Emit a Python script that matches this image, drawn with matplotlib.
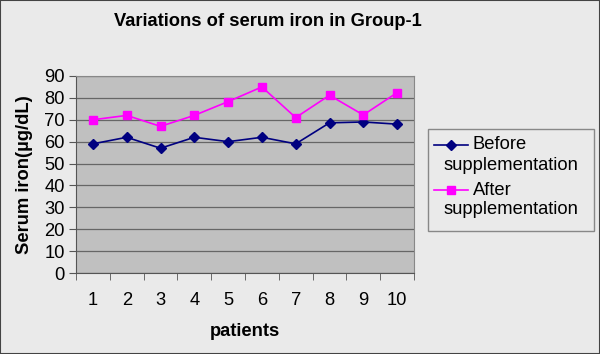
import matplotlib
matplotlib.use("Agg")
from matplotlib import pyplot as plt
from matplotlib.patches import Rectangle
from matplotlib.lines import Line2D

plt.rcParams['font.family'] = ['Liberation Sans', 'DejaVu Sans']

patients = [1, 2, 3, 4, 5, 6, 7, 8, 9, 10]
before = [59, 62, 57, 62, 60, 62, 59, 68.6, 69, 68]
after = [70, 72, 67, 72, 78.3, 85, 71, 81.2, 72.2, 82.4]
series_names = ["Before", "After"]

W, H = 600, 354
FS = 13.2
fig = plt.figure(figsize=(W / 100, H / 100), dpi=100)
fig.patch.set_facecolor("#EAEAEA")
fig.patches.append(Rectangle((0, 0), 1, 1, transform=fig.transFigure,
                             fill=False, edgecolor="#444444", linewidth=1.5))

# plot area in pixels: left 76, right 414, top 76, bottom 273
ax = fig.add_axes([76 / W, 1 - 273 / H, (414 - 76) / W, (273 - 76) / H])
ax.set_facecolor("#C0C0C0")

styles = [dict(color="#000080", marker="D", markersize=5),
          dict(color="#FF00FF", marker="s", markersize=6)]
ax.plot(patients, before, linewidth=1.2, **styles[0])
ax.plot(patients, after, linewidth=1.2, **styles[1])

ax.set_xlim(0.5, 10.5)
ax.set_ylim(0, 90)
ax.set_yticks(range(0, 91, 10))
ax.yaxis.grid(True, color="#666666", linewidth=0.9)
ax.set_axisbelow(True)

ax.set_xticks(patients)
ax.set_xticks([i + 0.5 for i in range(0, 11)], minor=True)
ax.tick_params(axis="x", which="major", length=0, pad=14, labelsize=FS)
ax.tick_params(axis="x", which="minor", length=5, color="#555555")
ax.tick_params(axis="y", length=5, color="#555555", labelsize=FS, pad=3)

for s in ["top", "right"]:
    ax.spines[s].set_color("#888888")
for s in ["left", "bottom"]:
    ax.spines[s].set_color("#555555")

ax.set_xlabel("patients", fontsize=FS, fontweight="bold", labelpad=10)
ax.set_ylabel("Serum iron(µg/dL)", fontsize=FS, fontweight="bold", labelpad=8)

fig.text(268 / W, 1 - 22 / H, "Variations of serum iron in Group-1",
         ha="center", va="center", fontsize=FS, fontweight="bold")

# Excel-style legend: name beside the key, "supplementation" wrapped below
fig.patches.append(Rectangle((428 / W, 1 - 231 / H), (594 - 428) / W,
                             (231 - 129) / H, transform=fig.transFigure,
                             facecolor="#EAEAEA", edgecolor="#888888",
                             linewidth=1))
for i, name in enumerate(series_names):
    y0 = 145 + i * 45
    fig.add_artist(Line2D([434 / W, 468 / W], [1 - y0 / H, 1 - y0 / H],
                          transform=fig.transFigure, linewidth=1.2,
                          color=styles[i]["color"]))
    fig.add_artist(Line2D([451 / W], [1 - y0 / H], transform=fig.transFigure,
                          linestyle="none", **styles[i]))
    fig.text(473 / W, 1 - y0 / H, name, ha="left", va="center", fontsize=FS)
    fig.text(444 / W, 1 - (y0 + 20) / H, "supplementation", ha="left",
             va="center", fontsize=FS)

fig.savefig("out.png", dpi=100)
